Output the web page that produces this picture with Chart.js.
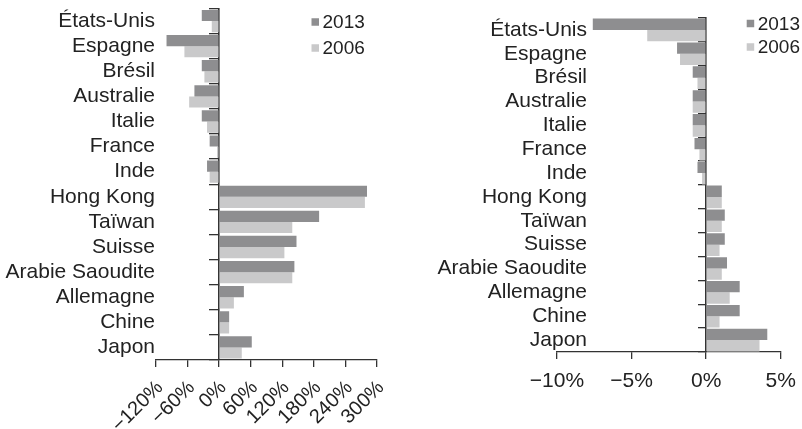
<!DOCTYPE html>
<html><head><meta charset="utf-8">
<script src="https://cdn.jsdelivr.net/npm/chart.js@4"></script>
<style>
body{margin:0;background:#fff;}
#wrap{position:relative;width:802px;height:429px;overflow:hidden;}
.pane{position:absolute;top:0;height:429px;}
</style></head>
<body>
<div id="wrap">
  <div class="pane" style="left:0;width:400px;"><canvas id="c1"></canvas></div>
  <div class="pane" style="left:400px;width:402px;"><canvas id="c2"></canvas></div>
</div>
<script>
const categories = ['États-Unis','Espagne','Brésil','Australie','Italie','France','Inde','Hong Kong','Taïwan','Suisse','Arabie Saoudite','Allemagne','Chine','Japon'];
const seriesLabels = ['2013','2006'];
const left2013 = [-33,-100,-33,-47,-33,-18,-23,281,190,147,143,47,19,62];
const left2006 = [-14,-66,-28,-57,-23,-4,-18,277,139,124,139,28,19,43];
const right2013 = [-7.6,-1.95,-0.9,-0.9,-0.9,-0.78,-0.58,1.05,1.25,1.25,1.4,2.25,2.25,4.1];
const right2006 = [-3.95,-1.75,-0.58,-0.9,-0.9,-0.45,-0.27,1.05,1.05,0.9,1.05,1.58,0.9,3.58];
const leftTicks = {min:-120, max:300, step:60};
const rightTicks = {min:-10, max:5, step:5};

const DARK = '#8e8e90', LIGHT = '#c9c9ca', AXIS = '#333333', TEXT = '#222222';
const FAMILY = "'Liberation Sans', Arial, sans-serif";
const FONT = {family:FAMILY, size:21};

// widest category label, to right-align mirrored labels
const mctx = document.createElement('canvas').getContext('2d');
mctx.font = '21px ' + FAMILY;
const widest = Math.max(...categories.map(c => mctx.measureText(c).width));

const legendPlugin = {
  id:'boxLegend',
  afterDraw(chart, args, opts){
    const ctx = chart.ctx;
    ctx.save();
    ctx.font = '19px ' + FAMILY;
    ctx.textBaseline = 'middle';
    ctx.textAlign = 'left';
    chart.data.datasets.forEach((ds, i) => {
      const cy = opts.y + i * opts.gap;
      ctx.fillStyle = ds.backgroundColor;
      ctx.fillRect(opts.x, cy - opts.box/2, opts.box, opts.box);
      ctx.fillStyle = TEXT;
      ctx.fillText(ds.label, opts.x + opts.box + 3.5, cy + 1);
    });
    ctx.restore();
  }
};

function fmt(v){ return (v < 0 ? '\u2212' + Math.abs(v) : String(v)) + '%'; }

function makeChart(id, d13, d06, tk, cfg){
  return new Chart(document.getElementById(id), {
    type:'bar',
    data:{
      labels:categories,
      datasets:[
        {label:seriesLabels[0], data:d13, backgroundColor:DARK},
        {label:seriesLabels[1], data:d06, backgroundColor:LIGHT}
      ]
    },
    plugins:[legendPlugin],
    options:{
      indexAxis:'y', responsive:true, maintainAspectRatio:false, animation:false,
      layout:{padding:{top:cfg.top, right:cfg.right, left:0, bottom:0}},
      datasets:{bar:{categoryPercentage:cfg.cat, barPercentage:1}},
      plugins:{legend:{display:false}, tooltip:{enabled:false}, boxLegend:cfg.legend},
      scales:{
        x:{type:'linear', min:tk.min, max:tk.max,
          ticks:{stepSize:tk.step, autoSkip:false, callback:v=>fmt(v), font:{family:FAMILY, size:cfg.xfs}, color:TEXT,
                 maxRotation:cfg.rot, minRotation:cfg.rot, padding:cfg.xpad, labelOffset:cfg.xoff},
          grid:{drawOnChartArea:false, drawTicks:true, tickLength:7, color:AXIS, lineWidth:1.3},
          border:{color:AXIS, width:1.3},
          afterFit:s=>{s.height = cfg.xh; s.paddingLeft = 0; s.paddingRight = 0;}
        },
        y:{type:'category', position:'left',
          ticks:{font:FONT, color:TEXT, padding:cfg.lpad, autoSkip:false,
                 mirror:cfg.mirror, crossAlign:cfg.mirror ? 'far' : 'near'},
          grid:{display:false, drawTicks:false},
          border:{display:false},
          afterFit:s=>{s.width = cfg.yw; s.paddingTop = 0; s.paddingBottom = 0;}
        },
        y2:{type:'category', axis:'y', position:{x:0}, offset:true,
          ticks:{display:false},
          grid:{drawOnChartArea:false, offset:true, tickLength:cfg.tl, color:AXIS, lineWidth:1.3},
          border:{color:AXIS, width:1.6},
          afterFit:s=>{s.paddingTop = 0; s.paddingBottom = 0; s.paddingLeft = 0; s.paddingRight = 0;}
        }
      }
    }
  });
}

makeChart('c1', left2013, left2006, leftTicks,
  {top:8.5, right:23, cat:0.89, rot:45, xfs:20, xpad:9, xoff:4, xh:69, yw:156, lpad:1, tl:9, mirror:false,
   legend:{x:311.5, y:22, gap:26, box:7.5}});
makeChart('c2', right2013, right2006, rightTicks,
  {top:18, right:21.3, cat:0.95, rot:0, xfs:21, xpad:10, xoff:0, xh:77, yw:157, lpad:30 - widest, tl:7, mirror:true,
   legend:{x:346.7, y:23.5, gap:23.5, box:7.5}});
</script>
</body></html>
